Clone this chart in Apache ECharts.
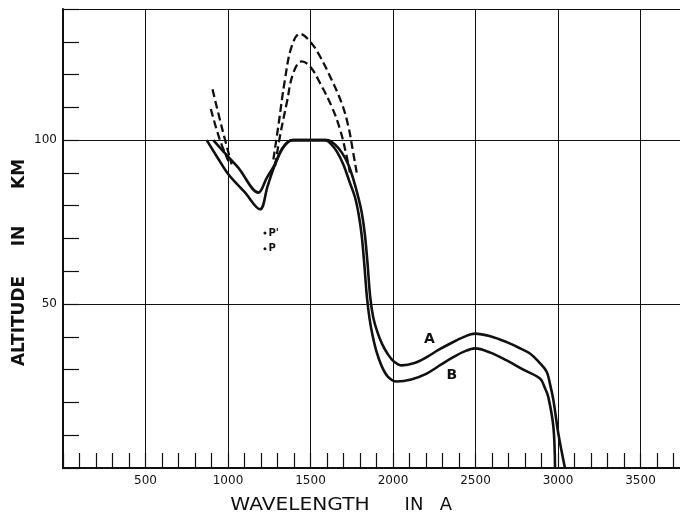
<!DOCTYPE html>
<html lang="en">

<head>
    <meta charset="UTF-8">
    <title>Altitude vs wavelength</title>
    <script src="https://cdn.jsdelivr.net/npm/echarts@6/dist/echarts.min.js"></script>
    <style>
        html, body { margin: 0; padding: 0; background: #fff; }
    </style>
</head>

<body>
    <div id="main" style="width:680px;height:516px;"></div>
    <script>
        // axis values
        var xTickLabels = [500, 1000, 1500, 2000, 2500, 3000, 3500];
        var yTickLabels = [50, 100];

        // solid curves [wavelength, altitude]
        var curveA = [
            [911, 100], [985, 95.8], [1062, 91.6], [1184, 84], [1235, 88.5], [1285, 92.7], [1325, 97.2],
            [1364, 99.5], [1400, 100], [1500, 100], [1600, 100], [1650, 98.6], [1690, 96.2], [1729, 92.6],
            [1760, 88], [1790, 82.5], [1812, 77.5], [1830, 71], [1846, 62.2], [1862, 52.1], [1880, 46],
            [1905, 41.5], [1935, 37.7], [1970, 34.6], [2005, 32.5], [2053, 31.3], [2130, 32], [2204, 33.8],
            [2275, 36], [2345, 37.9], [2430, 40], [2497, 41], [2590, 40.2], [2689, 38.4], [2770, 36.5],
            [2830, 34.9], [2890, 32], [2932, 29.3], [2952, 25.5], [2972, 20.7], [3002, 10.5], [3042, 0]
        ];
        var curveB = [
            [871, 100], [935, 94.8], [1002, 89.6], [1100, 84.2], [1194, 78.9], [1240, 86], [1285, 92.6],
            [1333, 97.6], [1388, 100], [1500, 100], [1590, 100], [1630, 98.5], [1660, 96.5], [1699, 92.6],
            [1735, 87.5], [1770, 82.5], [1792, 77.3], [1810, 71], [1826, 62.2], [1842, 52.1], [1858, 45.5],
            [1876, 40.5], [1900, 35.5], [1932, 31], [1970, 27.8], [2022, 26.4], [2110, 27], [2204, 28.8],
            [2290, 31.5], [2365, 33.8], [2430, 35.5], [2497, 36.5], [2590, 35.2], [2689, 32.8], [2790, 30],
            [2891, 27.3], [2920, 24.5], [2941, 21.7], [2972, 12.6], [2982, 0]
        ];

        // dashed curves, left and right pieces
        var dashOuterLeft = [[906, 115.5], [962, 104], [1022, 92.6]];
        var dashInnerLeft = [[896, 109.5], [948, 100.5], [1002, 93.6]];
        var dashOuterRight = [
            [1275, 94.1], [1305, 104.3], [1345, 118.4], [1386, 128.6], [1436, 132.4], [1497, 130.1],
            [1558, 125.5], [1628, 118.4], [1689, 111.3], [1729, 104.3], [1759, 96.1], [1780, 90.1]
        ];
        var dashInnerRight = [
            [1285, 92.1], [1315, 101.2], [1356, 111.3], [1396, 120.5], [1447, 124], [1497, 122.5],
            [1558, 117.4], [1628, 110.3], [1679, 103.3], [1719, 95.1], [1739, 90.1]
        ];

        // points P, P' and the curve letters
        var pointMarks = [
            { name: "P'", value: [1224, 71.7] },
            { name: 'P', value: [1224, 66.9] }
        ];
        var curveNames = [
            { name: 'A', value: [2220, 39.1] },
            { name: 'B', value: [2356, 28.3] }
        ];

        var ink = '#111';
        var myChart = echarts.init(document.getElementById('main'));

        function solid(data) {
            return {
                type: 'line', data: data, showSymbol: false, smooth: 0.35, silent: true,
                lineStyle: { color: ink, width: 2.6 }
            };
        }
        function dashed(data) {
            return {
                type: 'line', data: data, showSymbol: false, smooth: 0.4, silent: true,
                lineStyle: { color: ink, width: 2.3, type: [8, 4] }
            };
        }

        var option = {
            backgroundColor: '#fff',
            animation: false,
            // plot runs past the right edge of the picture
            grid: { left: 63, top: 9, width: 660, height: 459, outerBoundsMode: 'none' },
            xAxis: [{
                type: 'value', min: 0, max: 4000, interval: 100, position: 'bottom',
                axisLine: { lineStyle: { color: ink, width: 2 } },
                axisTick: { inside: true, length: 15, lineStyle: { color: ink, width: 1.2 } },
                axisLabel: {
                    margin: 7, color: ink, fontSize: 12, fontFamily: 'DejaVu Sans',
                    formatter: function (v) { return xTickLabels.indexOf(v) > -1 ? String(v) : ''; }
                },
                splitLine: { show: false }
            }, {
                type: 'value', min: 0, max: 4000, interval: 500, position: 'top',
                axisLine: { lineStyle: { color: ink, width: 2 } },
                axisTick: { show: false }, axisLabel: { show: false },
                splitLine: { show: true, lineStyle: { color: ink, width: 1 } }
            }],
            yAxis: [{
                type: 'value', min: 0, max: 140, interval: 10, position: 'left',
                axisLine: { lineStyle: { color: ink, width: 2 } },
                axisTick: { inside: true, length: 16, lineStyle: { color: ink, width: 1.2 } },
                axisLabel: {
                    margin: 6, color: ink, fontSize: 12, fontFamily: 'DejaVu Sans',
                    formatter: function (v) { return yTickLabels.indexOf(v) > -1 ? String(v) : ''; }
                },
                splitLine: { show: false }
            }, {
                type: 'value', min: 0, max: 140, interval: 50, position: 'right',
                axisLine: { show: false }, axisTick: { show: false }, axisLabel: { show: false },
                splitLine: { show: true, lineStyle: { color: ink, width: 1 } }
            }],
            graphic: [
                { type: 'text', x: 300, y: 505, scaleX: 1.12, style: { text: 'WAVELENGTH', fill: ink, font: '18px "DejaVu Sans"', textAlign: 'center', textVerticalAlign: 'middle' } },
                { type: 'text', x: 414, y: 505, style: { text: 'IN', fill: ink, font: '18px "DejaVu Sans"', textAlign: 'center', textVerticalAlign: 'middle' } },
                { type: 'text', x: 446, y: 505, style: { text: 'A', fill: ink, font: '18px "DejaVu Sans"', textAlign: 'center', textVerticalAlign: 'middle' } },
                { type: 'text', x: 20, y: 321, rotation: Math.PI / 2, style: { text: 'ALTITUDE', fill: ink, font: 'bold 17px "DejaVu Sans"', textAlign: 'center', textVerticalAlign: 'middle' } },
                { type: 'text', x: 20, y: 236, rotation: Math.PI / 2, style: { text: 'IN', fill: ink, font: 'bold 17px "DejaVu Sans"', textAlign: 'center', textVerticalAlign: 'middle' } },
                { type: 'text', x: 20, y: 174, rotation: Math.PI / 2, style: { text: 'KM', fill: ink, font: 'bold 17px "DejaVu Sans"', textAlign: 'center', textVerticalAlign: 'middle' } }
            ],
            series: [
                solid(curveA),
                solid(curveB),
                dashed(dashOuterLeft),
                dashed(dashInnerLeft),
                dashed(dashOuterRight),
                dashed(dashInnerRight),
                {
                    type: 'scatter', data: pointMarks, symbolSize: 3, silent: true,
                    itemStyle: { color: ink, opacity: 1 },
                    label: { show: true, position: 'right', distance: 2, formatter: '{b}', color: ink, fontSize: 10, fontWeight: 'bold', fontFamily: 'DejaVu Sans' }
                },
                {
                    type: 'scatter', data: curveNames, symbolSize: 0, silent: true,
                    itemStyle: { color: ink, opacity: 1 },
                    label: { show: true, position: 'inside', formatter: '{b}', color: ink, fontSize: 14, fontWeight: 'bold', fontFamily: 'DejaVu Sans' }
                }
            ]
        };
        myChart.setOption(option);
    </script>
</body>

</html>
